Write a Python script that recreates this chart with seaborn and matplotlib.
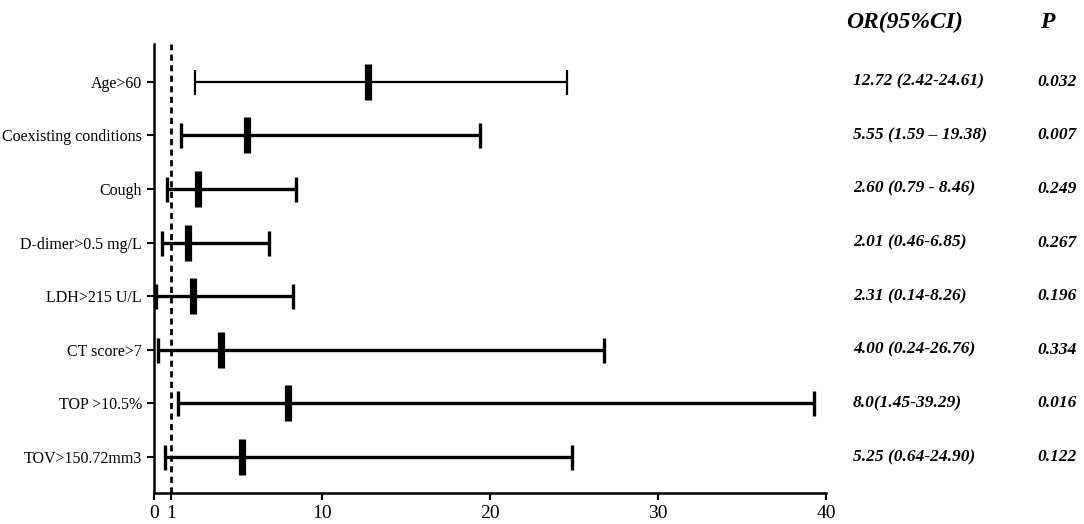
import numpy as np
import pandas as pd
import matplotlib
matplotlib.use("Agg")
import matplotlib.pyplot as plt
import matplotlib.transforms as mtransforms
import seaborn as sns

# data
factors = ["Age>60", "Coexisting conditions", "Cough", "D-dimer>0.5 mg/L",
           "LDH>215 U/L", "CT score>7", "TOP >10.5%", "TOV>150.72mm3"]
odds = [12.72, 5.55, 2.60, 2.01, 2.31, 4.00, 8.0, 5.25]
ci_low = [2.42, 1.59, 0.79, 0.46, 0.14, 0.24, 1.45, 0.64]
ci_high = [24.61, 19.38, 8.46, 6.85, 8.26, 26.76, 39.29, 24.90]
or_text = ["12.72 (2.42-24.61)", "5.55 (1.59 \u2013 19.38)", "2.60 (0.79 - 8.46)",
           "2.01 (0.46-6.85)", "2.31 (0.14-8.26)", "4.00 (0.24-26.76)",
           "8.0(1.45-39.29)", "5.25 (0.64-24.90)"]
p_text = ["0.032", "0.007", "0.249", "0.267", "0.196", "0.334", "0.016", "0.122"]
x_ticks = [0, 1, 10, 20, 30, 40]

df = pd.DataFrame({"factor": factors, "OR": odds, "lo": ci_low, "hi": ci_high})
df["pos"] = np.arange(len(df))

sns.set_style("ticks")
plt.rcParams["font.family"] = ["Liberation Serif", "DejaVu Serif"]
plt.rcParams["text.color"] = "black"
plt.rcParams["xtick.color"] = "black"
plt.rcParams["ytick.color"] = "black"

fig = plt.figure(figsize=(10.84, 5.24), dpi=100)
ax = fig.add_axes([0.142, 0.059, 0.62, 0.857])

# confidence intervals with caps
for i, row in df.iterrows():
    lw = 1.6 if i == 0 else 2.4
    ax.errorbar(row["OR"], row["pos"],
                xerr=[[row["OR"] - row["lo"]], [row["hi"] - row["OR"]]],
                fmt="none", ecolor="black", elinewidth=lw, capsize=9, capthick=lw)

# odds ratio markers
sns.scatterplot(data=df, x="OR", y="pos", marker="|", s=650, linewidth=5.2,
                color="black", ax=ax, legend=False, zorder=3)

ax.axvline(1, color="black", lw=2, ls=(0, (2.2, 1.6)), zorder=1)

ax.set_xlim(0, 40)
ax.set_ylim(len(df) - 0.33, -0.7)
ax.set_xticks(x_ticks)
ax.set_xticklabels([str(t) for t in x_ticks], fontsize=14)
ax.set_yticks(df["pos"])
ax.set_yticklabels(factors, fontsize=11.5)
ax.set_xlabel("")
ax.set_ylabel("")
ax.tick_params(axis="both", direction="out", length=5, width=1.5, colors="black")
for s in ["top", "right"]:
    ax.spines[s].set_visible(False)
for s in ["left", "bottom"]:
    ax.spines[s].set_linewidth(1.8)
    ax.spines[s].set_color("black")

# text columns on the right
trans = mtransforms.blended_transform_factory(fig.transFigure, ax.transData)
fig.text(0.781, 0.958, "OR(95%CI)", fontsize=17, fontweight="bold", fontstyle="italic",
         va="center", ha="left")
fig.text(0.959, 0.958, "P", fontsize=17, fontweight="bold", fontstyle="italic",
         va="center", ha="left")
for y, t1, t2 in zip(df["pos"], or_text, p_text):
    ax.text(0.787, y, t1, transform=trans, fontsize=12.5, fontweight="bold",
            fontstyle="italic", va="center", ha="left")
    ax.text(0.957, y, t2, transform=trans, fontsize=12.5, fontweight="bold",
            fontstyle="italic", va="center", ha="left")

fig.savefig("out.png", dpi=100)
